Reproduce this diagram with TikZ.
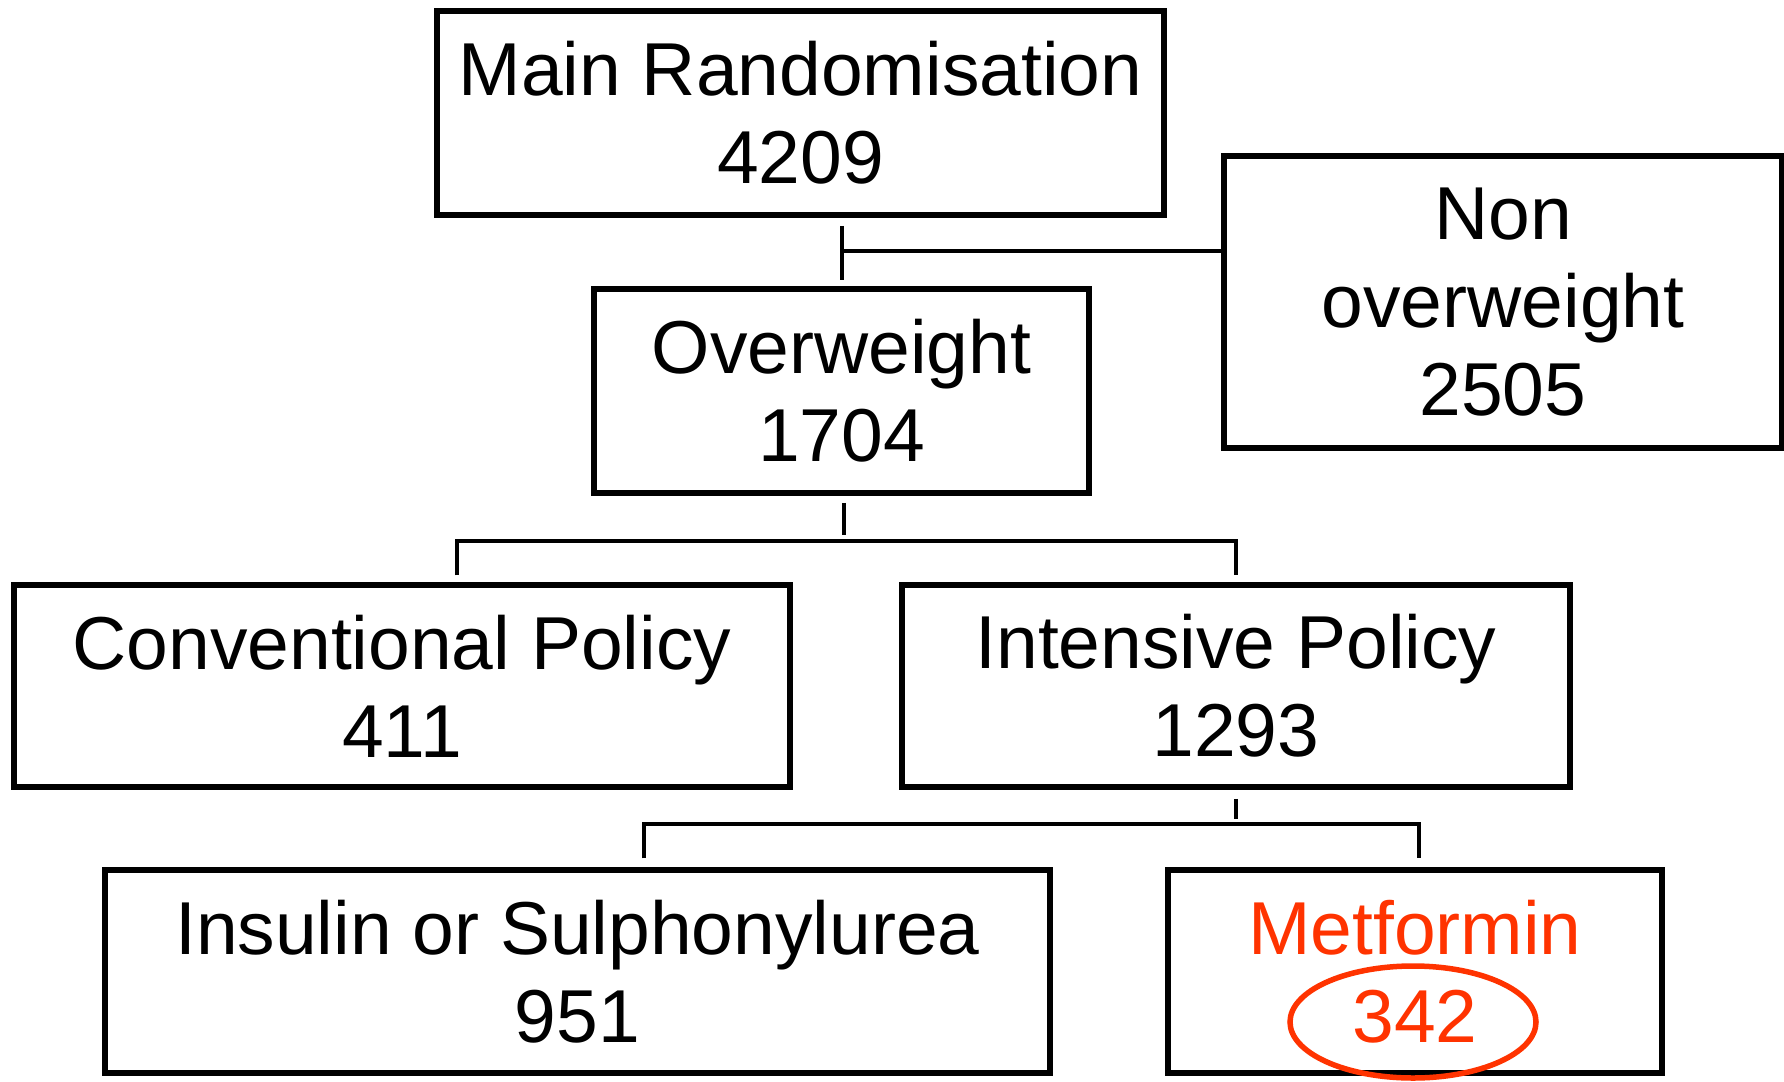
\documentclass[tikz,border=0pt]{standalone}
\usepackage{fontspec}
\setmainfont{Liberation Sans}
\usetikzlibrary{shapes.geometric}
\definecolor{metred}{HTML}{FF3300}
\tikzset{box/.style={draw, line width=2.75pt, align=center, inner sep=0pt,
  font=\fontsize{37.5}{44}\selectfont}}

\begin{document}
\begin{tikzpicture}[x=0.5pt,y=-0.5pt,line width=2.25pt]
\useasboundingbox (0,0) rectangle (1784,1082);
\node[box, minimum width=363.5pt, minimum height=102pt] (main) at (800.5,113) {Main Randomisation\\4209};
\node[box, minimum width=279pt, minimum height=146pt] (nonow) at (1503,302) {Non\\overweight\\2505};
\node[box, minimum width=247.5pt, minimum height=102pt] (ow) at (841.5,391) {Overweight\\1704};

\node[box, minimum width=388pt, minimum height=101pt] (conv) at (402,686) {Conventional Policy\\411};
\node[box, minimum width=334pt, minimum height=101pt] (intens) at (1236,686) {Intensive Policy\\1293};

\node[box, minimum width=472.5pt, minimum height=101.5pt] (insulin) at (577.5,971.5) {Insulin or Sulphonylurea\\951};
\node[box, minimum width=247pt, minimum height=101.5pt, text=metred] (metf) at (1415,971.5) {Metformin\\342};
\node[ellipse, draw=metred, line width=2.75pt, minimum width=123pt, minimum height=56pt] (ring) at (1413,1022) {};

\coordinate (t1) at (842,251);
\draw[shorten <=4pt, shorten >=3pt] (t1 |- main.south) -- (t1 |- ow.north);
\draw (t1) -- (t1 -| nonow.west);

\coordinate (s1) at (844,535);
\coordinate (s2) at (457,541);
\coordinate (s3) at (1236,541);
\draw[shorten <=3.5pt] (s1 |- ow.south) -- (s1);
\draw[shorten <=3.5pt, shorten >=3.5pt] (s2 |- conv.north) -- (s2) -- (s3) -- (s3 |- intens.north);

\coordinate (i1) at (1236,819);
\coordinate (i2) at (644,824);
\coordinate (i3) at (1419,824);
\draw[shorten <=4.5pt] (intens.south) -- (i1);
\draw[shorten <=4.5pt, shorten >=4.5pt] (i2 |- insulin.north) -- (i2) -- (i3) -- (i3 |- metf.north);
\end{tikzpicture}
\end{document}
